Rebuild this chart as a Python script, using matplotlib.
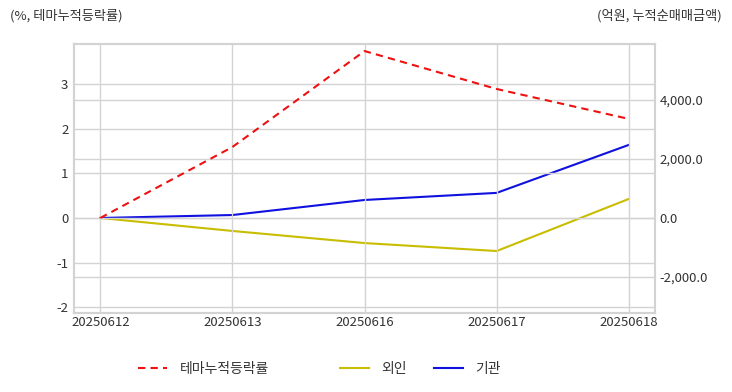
import matplotlib
matplotlib.use("Agg")
import matplotlib.pyplot as plt
from matplotlib.ticker import FuncFormatter

plt.rcParams['font.family'] = ['Noto Sans CJK KR', 'DejaVu Sans']
plt.rcParams['axes.unicode_minus'] = False

dates = ["20250612", "20250613", "20250616", "20250617", "20250618"]
theme_rate = [0.0, 1.59, 3.74, 2.89, 2.22]
foreign = [0.0, -440.0, -850.0, -1120.0, 644.0]
institution = [0.0, 100.0, 610.0, 850.0, 2475.0]

grid_c = "#d3d3d3"
txt_c = "#333333"

fig = plt.figure(figsize=(7.32, 3.92), dpi=100)
ax = fig.add_axes([0.101, 0.2015, 0.794, 0.6865])
ax2 = ax.twinx()

x = list(range(len(dates)))
l1, = ax.plot(x, theme_rate, color="#ee1111", linestyle=(0, (3.5, 2.5)), lw=1.5, label="테마누적등락률")
l2, = ax2.plot(x, foreign, color="#c8bd00", lw=1.5, label="외인")
l3, = ax2.plot(x, institution, color="#1010e0", lw=1.5, label="기관")

ax.set_xlim(-0.2, 4.2)
ax.set_ylim(-2.13, 3.9)
ax2.set_ylim(-3220, 5898)
ax.set_yticks([-2, -1, 0, 1, 2, 3])
ax2.set_yticks([-2000, 0, 2000, 4000])
ax2.yaxis.set_major_formatter(FuncFormatter(lambda v, p: f"{v:,.1f}"))
ax.set_xticks(x)
ax.set_xticklabels(dates)

for a in (ax, ax2):
    a.tick_params(length=0, labelsize=9.5, colors=txt_c)
    for s in a.spines.values():
        s.set_color(grid_c)
        s.set_linewidth(1.5)
ax.tick_params(axis='y', pad=4)
ax2.tick_params(axis='y', pad=3)
ax.tick_params(axis='x', pad=2)

ax.grid(True, color=grid_c, lw=1)
ax2.grid(True, axis='y', color=grid_c, lw=1)
ax.set_axisbelow(True)
ax2.set_axisbelow(True)
ax.set_zorder(ax2.get_zorder() + 1)
ax.patch.set_visible(False)

fig.text(10 / 732, 1 - 16 / 392, "(%, 테마누적등락률)", fontsize=9.5, color=txt_c, va="center", ha="left")
fig.text(722 / 732, 1 - 16 / 392, "(억원, 누적순매매금액)", fontsize=9.5, color=txt_c, va="center", ha="right")

for handle, label, xpx in [(l1, "테마누적등락률", 138), (l2, "외인", 340), (l3, "기관", 434)]:
    fig.legend([handle], [label], loc="center left", bbox_to_anchor=(xpx / 732, 1 - 369 / 392),
               frameon=False, fontsize=10, handlelength=2.1, handletextpad=0.9,
               borderpad=0, borderaxespad=0, labelcolor=txt_c)

fig.savefig("out.png", dpi=100)
